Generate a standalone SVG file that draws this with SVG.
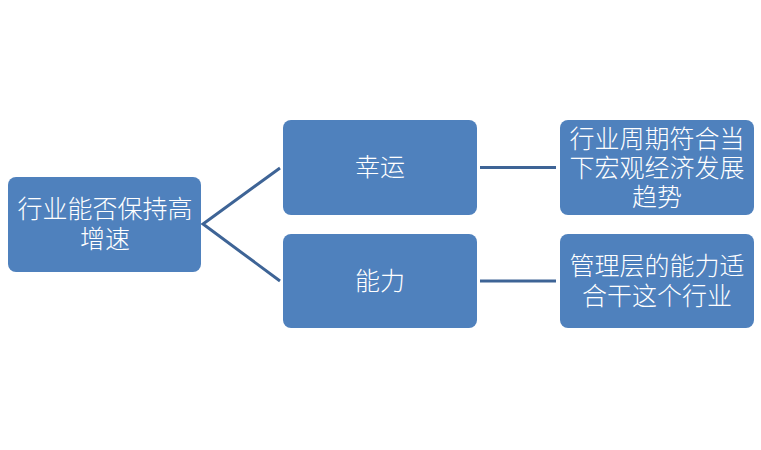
<svg xmlns="http://www.w3.org/2000/svg" width="761" height="450" viewBox="0 0 761 450">
<style>
.box{fill:#4f81bd;}
.t{font-family:"Noto Sans CJK SC","Noto Sans",sans-serif;font-size:25px;font-weight:300;fill:#ffffff;text-anchor:middle;dominant-baseline:central;}
.c{stroke:#3e6496;stroke-width:3;fill:none;}
</style>
<rect width="761" height="450" fill="#ffffff"/>
<g id="connectors">
<path class="c" d="M280,168 L203,224 L280,281"/>
<line class="c" x1="480" y1="167.5" x2="556" y2="167.5"/>
<line class="c" x1="480" y1="281" x2="556" y2="281"/>
</g>
<g id="root">
<rect class="box" x="8" y="177" width="193" height="95" rx="8"/>
<text class="t"><tspan x="105" y="207">行业能否保持高</tspan><tspan x="105" y="237">增速</tspan></text>
</g>
<g id="luck">
<rect class="box" x="283" y="120" width="194" height="95" rx="8"/>
<text class="t" x="380" y="165">幸运</text>
</g>
<g id="ability">
<rect class="box" x="283" y="234" width="194" height="94" rx="8"/>
<text class="t" x="380" y="279">能力</text>
</g>
<g id="cycle">
<rect class="box" x="560" y="120" width="194" height="95" rx="8"/>
<text class="t"><tspan x="657" y="137">行业周期符合当</tspan><tspan x="657" y="166">下宏观经济发展</tspan><tspan x="657" y="195">趋势</tspan></text>
</g>
<g id="mgmt">
<rect class="box" x="560" y="234" width="194" height="94" rx="8"/>
<text class="t"><tspan x="657" y="264">管理层的能力适</tspan><tspan x="657" y="294">合干这个行业</tspan></text>
</g>
</svg>
